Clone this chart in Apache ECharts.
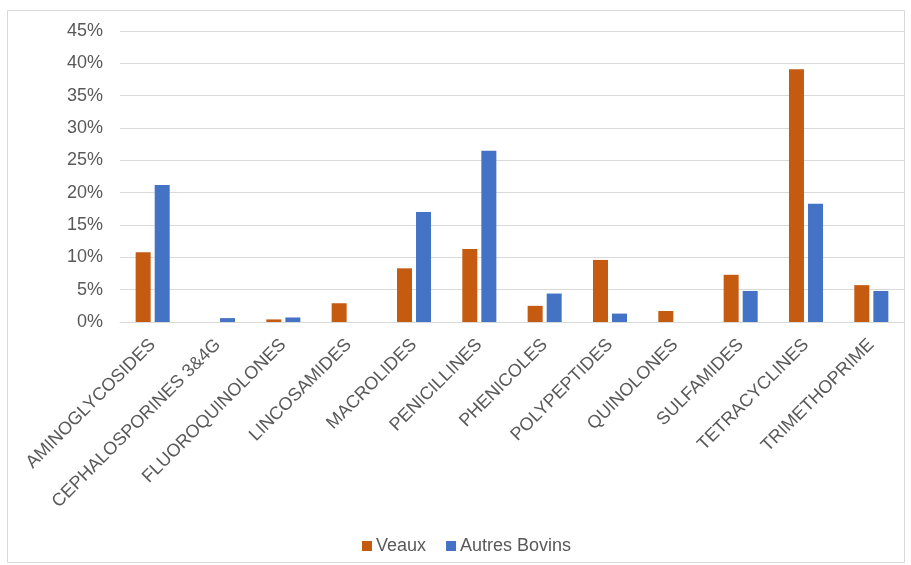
<!DOCTYPE html>
<html>
<head>
<meta charset="utf-8">
<script src="https://cdn.jsdelivr.net/npm/echarts@6/dist/echarts.min.js"></script>
<style>
	html, body { margin: 0; padding: 0; background: #fff; }
	#chart { width: 911px; height: 565px; }
</style>
</head>
<body>
<div id="chart"></div>
<script>
	const categories = ['AMINOGLYCOSIDES', 'CEPHALOSPORINES 3&4G', 'FLUOROQUINOLONES', 'LINCOSAMIDES', 'MACROLIDES', 'PENICILLINES', 'PHENICOLES', 'POLYPEPTIDES', 'QUINOLONES', 'SULFAMIDES', 'TETRACYCLINES', 'TRIMETHOPRIME']
	const veaux = [10.8, 0, 0.4, 2.9, 8.3, 11.3, 2.5, 9.6, 1.7, 7.3, 39.1, 5.7]
	const autresBovins = [21.2, 0.6, 0.7, 0, 17.0, 26.5, 4.4, 1.3, 0, 4.8, 18.3, 4.8]

	const textColor = '#595959'
	const chart = echarts.init(document.getElementById('chart'))
	const option = {
		backgroundColor: '#fff',
		animation: false,
		graphic: [
			{
				type: 'rect',
				shape: { x: 7.5, y: 10.5, width: 897, height: 552 },
				style: { fill: 'none', stroke: '#d9d9d9', lineWidth: 1 },
				silent: true
			}
		],
		grid: {
			left: 120,
			right: 7,
			top: 31,
			bottom: 243
		},
		legend: {
			bottom: 5,
			left: 357,
			itemWidth: 10,
			itemHeight: 10,
			itemGap: 20,
			icon: 'rect',
			textStyle: { color: textColor, fontSize: 18, fontFamily: 'Liberation Sans', padding: [0, 0, 0, -1] },
			data: ['Veaux', 'Autres Bovins']
		},
		xAxis: {
			type: 'category',
			data: categories,
			axisLine: { lineStyle: { color: '#d9d9d9' } },
			axisTick: { show: false },
			axisLabel: {
				interval: 0,
				rotate: 45,
				margin: 20,
				color: textColor,
				fontSize: 18,
				fontFamily: 'Liberation Sans'
			}
		},
		yAxis: {
			type: 'value',
			min: 0,
			max: 45,
			interval: 5,
			axisLine: { show: false },
			axisTick: { show: false },
			splitLine: { lineStyle: { color: '#d9d9d9' } },
			axisLabel: {
				formatter: '{value}%',
				color: textColor,
				fontSize: 18,
				margin: 17,
				fontFamily: 'Liberation Sans'
			}
		},
		series: [
			{
				name: 'Veaux',
				type: 'bar',
				data: veaux,
				barWidth: 15,
				barGap: '27%',
				itemStyle: { color: '#C55A11' }
			},
			{
				name: 'Autres Bovins',
				type: 'bar',
				data: autresBovins,
				barWidth: 15,
				itemStyle: { color: '#4472C4' }
			}
		]
	}
	chart.setOption(option)
	window.onresize = () => {
		chart.resize()
	}
</script>
</body>
</html>
